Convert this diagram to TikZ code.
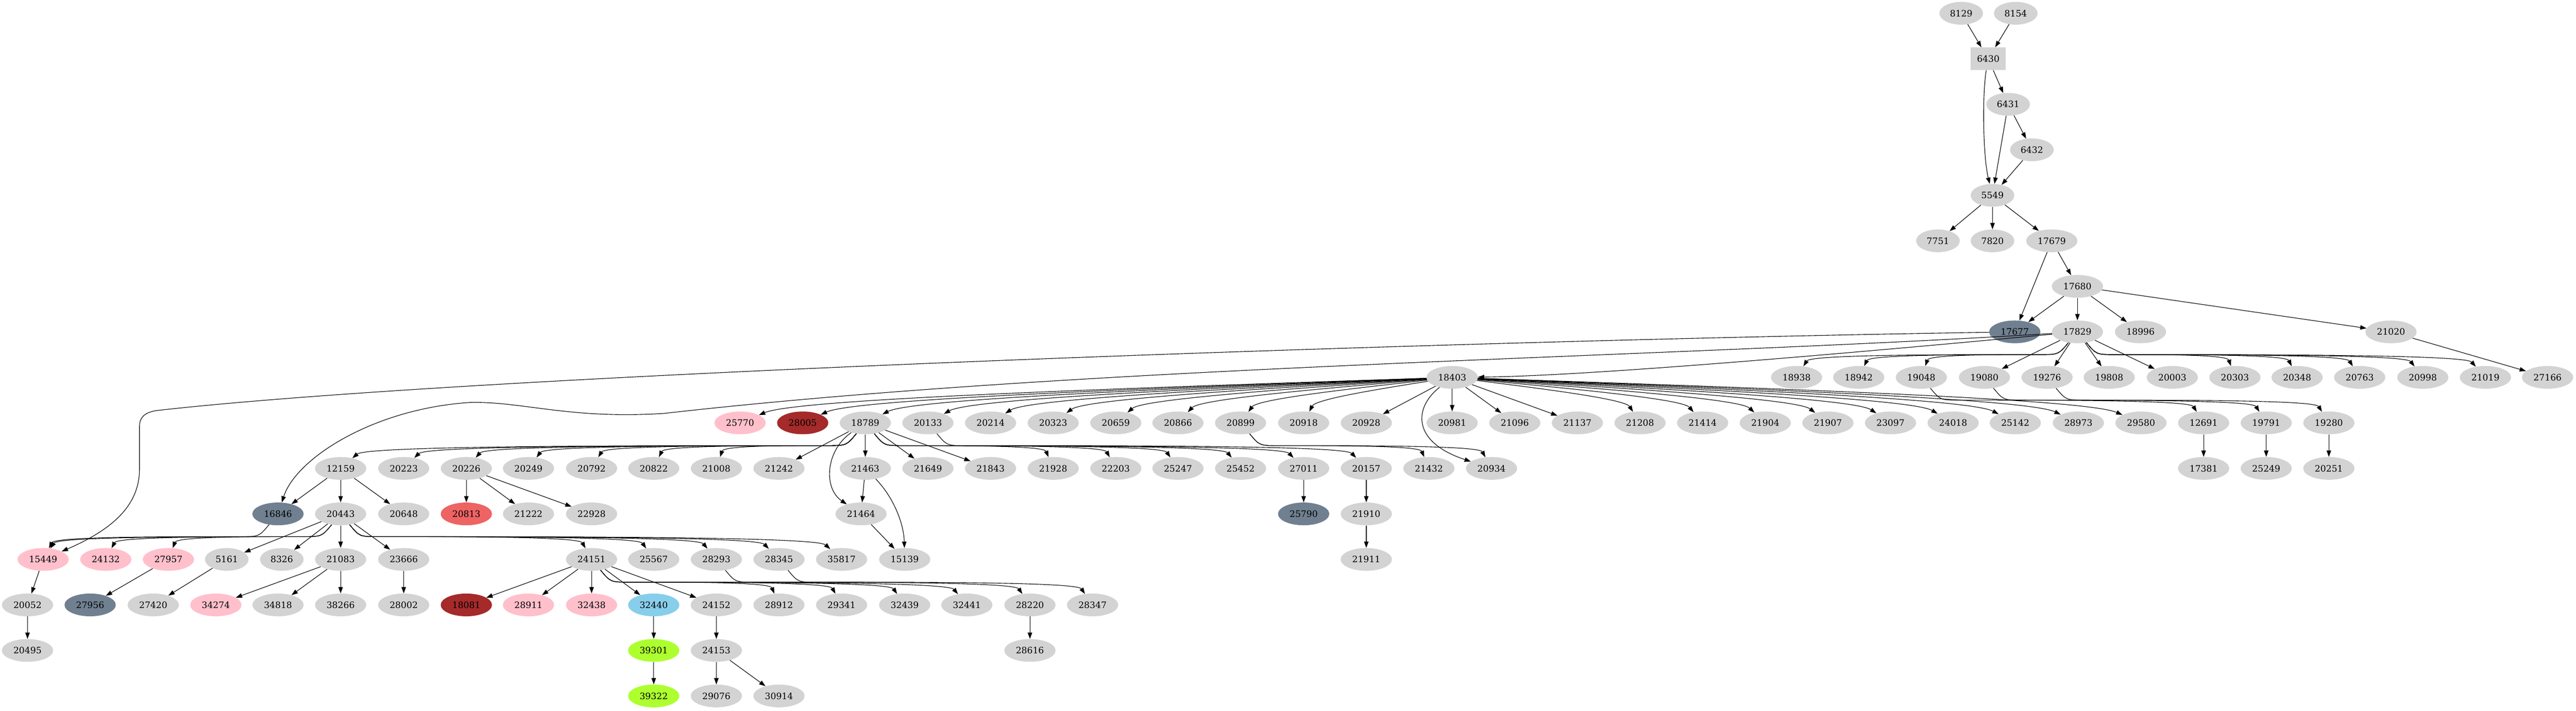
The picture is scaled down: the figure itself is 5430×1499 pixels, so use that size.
\documentclass[tikz,border=0pt]{standalone}
\usepackage{fontspec}
\setmainfont{DejaVu Serif}
\usetikzlibrary{shapes.geometric,arrows.meta,calc}
\definecolor{lgray}{HTML}{D3D3D3}
\definecolor{slate}{HTML}{708090}
\definecolor{pinkc}{HTML}{FFC0CB}
\definecolor{brownc}{HTML}{A52A2A}
\definecolor{redc}{HTML}{EE6363}
\definecolor{skyc}{HTML}{87CEEB}
\definecolor{gyc}{HTML}{ADFF2F}
\tikzset{
  gn/.style={ellipse, fill=lgray, minimum width=81pt, minimum height=36pt, inner sep=0pt, text=black},
  g4/.style={gn, minimum width=69pt},
  gbox/.style={rectangle, fill=lgray, minimum width=55pt, minimum height=36pt, inner sep=0pt},
  e/.style={-{Triangle[length=10pt,width=7pt]}, line width=0.9pt, black},
}
\newcommand\fanedge[2]{\draw[e] let \p1=(#1), \p2=(#2), \n1={sign(\x2-\x1)} in
  (#1) .. controls ({\x1+\n1*30pt}, {\y1-36pt}) .. ({\x1+\n1*60pt}, {\y1-36pt})
  .. controls ({\x1+\n1*60pt+0.4*(\x2-\x1-\n1*60pt)}, {\y1-36pt}) and ({\x2-0.05*(\x2-\x1)}, {\y2+36pt}) .. (#2);}
\newcommand\sidefan[2]{\draw[e] (#1) .. controls ($(#1)!0.5!(#1-|#2)+(0,25)$) and ($(#2)!0.08!(#2-|#1)+(0,-50)$) .. (#2);}
\newcommand\sedge[2]{\draw[e] (#1) -- (#2);}
\begin{document}
\begin{tikzpicture}[x=0.75pt, y=-0.75pt, font=\fontsize{14pt}{16pt}\selectfont]
\fill[white] (0,0) rectangle (5430,1499);
\useasboundingbox (0,0) rectangle (5430,1499);
% rank 0-7
\node[g4] (n8129) at (4134,28) {8129};
\node[g4] (n8154) at (4249,28) {8154};
\node[gbox] (n6430) at (4191,124) {6430};
\node[g4] (n6431) at (4233,220) {6431};
\node[g4] (n6432) at (4283,316) {6432};
\node[g4] (n5549) at (4200,412) {5549};
\node[g4] (n7751) at (4085,508) {7751};
\node[g4] (n7820) at (4200,508) {7820};
\node[gn] (n17679) at (4325,508) {17679};
\node[gn] (n17680) at (4379,604) {17680};
\node[gn, fill=slate] (n17677) at (4247,700) {17677};
\node[gn] (n17829) at (4379,700) {17829};
\node[gn] (n18996) at (4512,700) {18996};
\node[gn] (n21020) at (5040,700) {21020};
% rank 8
\node[gn] (n18403) at (3061,796) {18403};
\node[gn] (n18938) at (3787,796) {18938};
\node[gn] (n18942) at (3918,796) {18942};
\node[gn] (n19048) at (4050,796) {19048};
\node[gn] (n19080) at (4183,796) {19080};
\node[gn] (n19276) at (4315,796) {19276};
\node[gn] (n19808) at (4446,796) {19808};
\node[gn] (n20003) at (4579,796) {20003};
\node[gn] (n20303) at (4711,796) {20303};
\node[gn] (n20348) at (4842,796) {20348};
\node[gn] (n20763) at (4974,796) {20763};
\node[gn] (n20998) at (5107,796) {20998};
\node[gn] (n21019) at (5239,796) {21019};
\node[gn] (n27166) at (5370,796) {27166};
% rank 9
\node[gn, fill=pinkc] (n25770) at (1560,892) {25770};
\node[gn, fill=brownc] (n28005) at (1692,892) {28005};
\node[gn] (n18789) at (1824,892) {18789};
\node[gn] (n20133) at (1956,892) {20133};
\node[gn] (n20214) at (2088,892) {20214};
\node[gn] (n20323) at (2220,892) {20323};
\node[gn] (n20659) at (2352,892) {20659};
\node[gn] (n20866) at (2483,892) {20866};
\node[gn] (n20899) at (2615,892) {20899};
\node[gn] (n20918) at (2748,892) {20918};
\node[gn] (n20928) at (2880,892) {20928};
\node[gn] (n20981) at (3061,892) {20981};
\node[gn] (n21096) at (3193,892) {21096};
\node[gn] (n21137) at (3325,892) {21137};
\node[gn] (n21208) at (3457,892) {21208};
\node[gn] (n21414) at (3589,892) {21414};
\node[gn] (n21904) at (3721,892) {21904};
\node[gn] (n21907) at (3853,892) {21907};
\node[gn] (n23097) at (3985,892) {23097};
\node[gn] (n24018) at (4117,892) {24018};
\node[gn] (n25142) at (4248,892) {25142};
\node[gn] (n28973) at (4381,892) {28973};
\node[gn] (n29580) at (4513,892) {29580};
\node[gn] (n12691) at (4645,892) {12691};
\node[gn] (n19791) at (4777,892) {19791};
\node[gn] (n19280) at (4909,892) {19280};
% rank 10
\node[gn] (n12159) at (718,988) {12159};
\node[gn] (n20223) at (851,988) {20223};
\node[gn] (n20226) at (983,988) {20226};
\node[gn] (n20249) at (1114,988) {20249};
\node[gn] (n20792) at (1247,988) {20792};
\node[gn] (n20822) at (1378,988) {20822};
\node[gn] (n21008) at (1510,988) {21008};
\node[gn] (n21242) at (1642,988) {21242};
\node[gn] (n21463) at (1824,988) {21463};
\node[gn] (n21649) at (1956,988) {21649};
\node[gn] (n21843) at (2088,988) {21843};
\node[gn] (n21928) at (2220,988) {21928};
\node[gn] (n22203) at (2352,988) {22203};
\node[gn] (n25247) at (2483,988) {25247};
\node[gn] (n25452) at (2615,988) {25452};
\node[gn] (n27011) at (2748,988) {27011};
\node[gn] (n20157) at (2880,988) {20157};
\node[gn] (n21432) at (3012,988) {21432};
\node[gn] (n20934) at (3144,988) {20934};
\node[gn] (n17381) at (4645,988) {17381};
\node[gn] (n25249) at (4777,988) {25249};
\node[gn] (n20251) at (4909,988) {20251};
% rank 11
\node[gn, fill=slate] (n16846) at (586,1084) {16846};
\node[gn] (n20443) at (718,1084) {20443};
\node[gn] (n20648) at (851,1084) {20648};
\node[gn, fill=redc] (n20813) at (983,1084) {20813};
\node[gn] (n21222) at (1114,1084) {21222};
\node[gn] (n22928) at (1247,1084) {22928};
\node[gn] (n21464) at (1815,1084) {21464};
\node[gn, fill=slate] (n25790) at (2748,1084) {25790};
\node[gn] (n21910) at (2880,1084) {21910};
% rank 12
\node[gn, fill=pinkc] (n15449) at (91,1180) {15449};
\node[gn, fill=pinkc] (n24132) at (223,1180) {24132};
\node[gn, fill=pinkc] (n27957) at (355,1180) {27957};
\node[g4] (n5161) at (478,1180) {5161};
\node[g4] (n8326) at (594,1180) {8326};
\node[gn] (n21083) at (718,1180) {21083};
\node[gn] (n23666) at (851,1180) {23666};
\node[gn] (n24151) at (1247,1180) {24151};
\node[gn] (n25567) at (1378,1180) {25567};
\node[gn] (n28293) at (1510,1180) {28293};
\node[gn] (n28345) at (1642,1180) {28345};
\node[gn] (n35817) at (1774,1180) {35817};
\node[gn] (n15139) at (1907,1180) {15139};
\node[gn] (n21911) at (2880,1180) {21911};
% rank 13
\node[gn] (n20052) at (58,1276) {20052};
\node[gn, fill=slate] (n27956) at (190,1276) {27956};
\node[gn] (n27420) at (323,1276) {27420};
\node[gn, fill=pinkc] (n34274) at (455,1276) {34274};
\node[gn] (n34818) at (586,1276) {34818};
\node[gn] (n38266) at (718,1276) {38266};
\node[gn] (n28002) at (851,1276) {28002};
\node[gn, fill=brownc] (n18081) at (983,1276) {18081};
\node[gn, fill=pinkc] (n28911) at (1114,1276) {28911};
\node[gn, fill=pinkc] (n32438) at (1247,1276) {32438};
\node[gn, fill=skyc] (n32440) at (1378,1276) {32440};
\node[gn] (n24152) at (1510,1276) {24152};
\node[gn] (n28912) at (1642,1276) {28912};
\node[gn] (n29341) at (1774,1276) {29341};
\node[gn] (n32439) at (1907,1276) {32439};
\node[gn] (n32441) at (2038,1276) {32441};
\node[gn] (n28220) at (2171,1276) {28220};
\node[gn] (n28347) at (2303,1276) {28347};
% rank 14-15
\node[gn] (n20495) at (58,1372) {20495};
\node[gn, fill=gyc] (n39301) at (1378,1372) {39301};
\node[gn] (n24153) at (1510,1372) {24153};
\node[gn] (n28616) at (2171,1372) {28616};
\node[gn, fill=gyc] (n39322) at (1378,1468) {39322};
\node[gn] (n29076) at (1510,1468) {29076};
\node[gn] (n30914) at (1642,1468) {30914};

% ---- edges, top part
\sedge{n8129}{n6430}
\sedge{n8154}{n6430}
\sedge{n6430}{n6431}
\draw[e] (n6430) .. controls (4178,200) and (4180,330) .. (n5549);
\sedge{n6431}{n5549}
\sedge{n6431}{n6432}
\sedge{n6432}{n5549}
\sedge{n5549}{n7751}
\sedge{n5549}{n7820}
\sedge{n5549}{n17679}
\sedge{n17679}{n17677}
\sedge{n17679}{n17680}
\sedge{n17680}{n17677}
\sedge{n17680}{n17829}
\sedge{n17680}{n18996}
\sedge{n17680}{n21020}
\sedge{n21020}{n27166}
% long edges
\draw[e] (n17677) .. controls (3000,720) and (1000,790) .. (330,866) .. controls (305,870) and (294,880) .. (294,900) -- (294,990) .. controls (294,1070) and (230,1120) .. (n15449);
\draw[e] (n17829) .. controls (3900,745) and (3350,793) .. (n18403);
\draw[e] (n17829) .. controls (3500,755) and (2300,770) .. (1400,872) .. controls (1200,885) and (1100,846) .. (990,849) .. controls (790,862) and (625,965) .. (n16846);
% 17829 fan
\fanedge{n17829}{n18938}
\fanedge{n17829}{n18942}
\fanedge{n17829}{n19048}
\sedge{n17829}{n19080}
\sedge{n17829}{n19276}
\sedge{n17829}{n19808}
\sedge{n17829}{n20003}
\fanedge{n17829}{n20303}
\fanedge{n17829}{n20348}
\fanedge{n17829}{n20763}
\fanedge{n17829}{n20998}
\fanedge{n17829}{n21019}
% 18403 fan
\sidefan{n18403}{n25770}
\sidefan{n18403}{n28005}
\sidefan{n18403}{n18789}
\sidefan{n18403}{n20133}
\sidefan{n18403}{n20214}
\sidefan{n18403}{n20323}
\sidefan{n18403}{n20659}
\sidefan{n18403}{n20866}
\sidefan{n18403}{n20899}
\sidefan{n18403}{n20918}
\sedge{n18403}{n20928}
\sedge{n18403}{n20981}
\sedge{n18403}{n21096}
\sedge{n18403}{n21137}
\sidefan{n18403}{n21208}
\sidefan{n18403}{n21414}
\sidefan{n18403}{n21904}
\sidefan{n18403}{n21907}
\sidefan{n18403}{n23097}
\sidefan{n18403}{n24018}
\sidefan{n18403}{n25142}
\sidefan{n18403}{n28973}
\sidefan{n18403}{n29580}
\draw[e] (n18403) .. controls (2980,860) and (2975,932) .. (n20934);
% rank 8 -> 9 -> 10 right
\fanedge{n19048}{n12691}
\fanedge{n19080}{n19791}
\fanedge{n19276}{n19280}
\sedge{n12691}{n17381}
\sedge{n19791}{n25249}
\sedge{n19280}{n20251}
% 18789 fan
\fanedge{n18789}{n12159}
\fanedge{n18789}{n20223}
\fanedge{n18789}{n20226}
\fanedge{n18789}{n20249}
\fanedge{n18789}{n20792}
\fanedge{n18789}{n20822}
\fanedge{n18789}{n21008}
\sedge{n18789}{n21242}
\sedge{n18789}{n21463}
\sedge{n18789}{n21649}
\sedge{n18789}{n21843}
\fanedge{n18789}{n21928}
\fanedge{n18789}{n22203}
\fanedge{n18789}{n25247}
\fanedge{n18789}{n25452}
\fanedge{n18789}{n27011}
\draw[e] (n18789) .. controls (1740,950) and (1735,1030) .. (n21464);
\fanedge{n20133}{n20157}
\fanedge{n20899}{n21432}
\fanedge{n20899}{n20934}
\sedge{n27011}{n25790}
\sedge{n20157}{n21910}
\sedge{n21910}{n21911}
\sedge{n21463}{n21464}
\draw[e] (n21463) .. controls (1880,1045) and (1905,1100) .. (n15139);
\sedge{n21464}{n15139}
% 12159, 20226
\sedge{n12159}{n16846}
\sedge{n12159}{n20443}
\sedge{n12159}{n20648}
\sedge{n20226}{n20813}
\sedge{n20226}{n21222}
\sedge{n20226}{n22928}
\fanedge{n16846}{n15449}
% 20443 fan
\fanedge{n20443}{n15449}
\fanedge{n20443}{n24132}
\fanedge{n20443}{n27957}
\sedge{n20443}{n5161}
\sedge{n20443}{n8326}
\sedge{n20443}{n21083}
\sedge{n20443}{n23666}
\fanedge{n20443}{n24151}
\fanedge{n20443}{n25567}
\fanedge{n20443}{n28293}
\fanedge{n20443}{n28345}
\fanedge{n20443}{n35817}
% lower
\sedge{n15449}{n20052}
\sedge{n20052}{n20495}
\sedge{n27957}{n27956}
\sedge{n5161}{n27420}
\sedge{n21083}{n34274}
\sedge{n21083}{n34818}
\sedge{n21083}{n38266}
\sedge{n23666}{n28002}
\sedge{n24151}{n18081}
\sedge{n24151}{n28911}
\sedge{n24151}{n32438}
\sedge{n24151}{n32440}
\sedge{n24151}{n24152}
\fanedge{n24151}{n28912}
\fanedge{n24151}{n29341}
\fanedge{n24151}{n32439}
\fanedge{n24151}{n32441}
\fanedge{n28293}{n28220}
\fanedge{n28345}{n28347}
\sedge{n28220}{n28616}
\sedge{n32440}{n39301}
\sedge{n39301}{n39322}
\sedge{n24152}{n24153}
\sedge{n24153}{n29076}
\sedge{n24153}{n30914}
\end{tikzpicture}
\end{document}
